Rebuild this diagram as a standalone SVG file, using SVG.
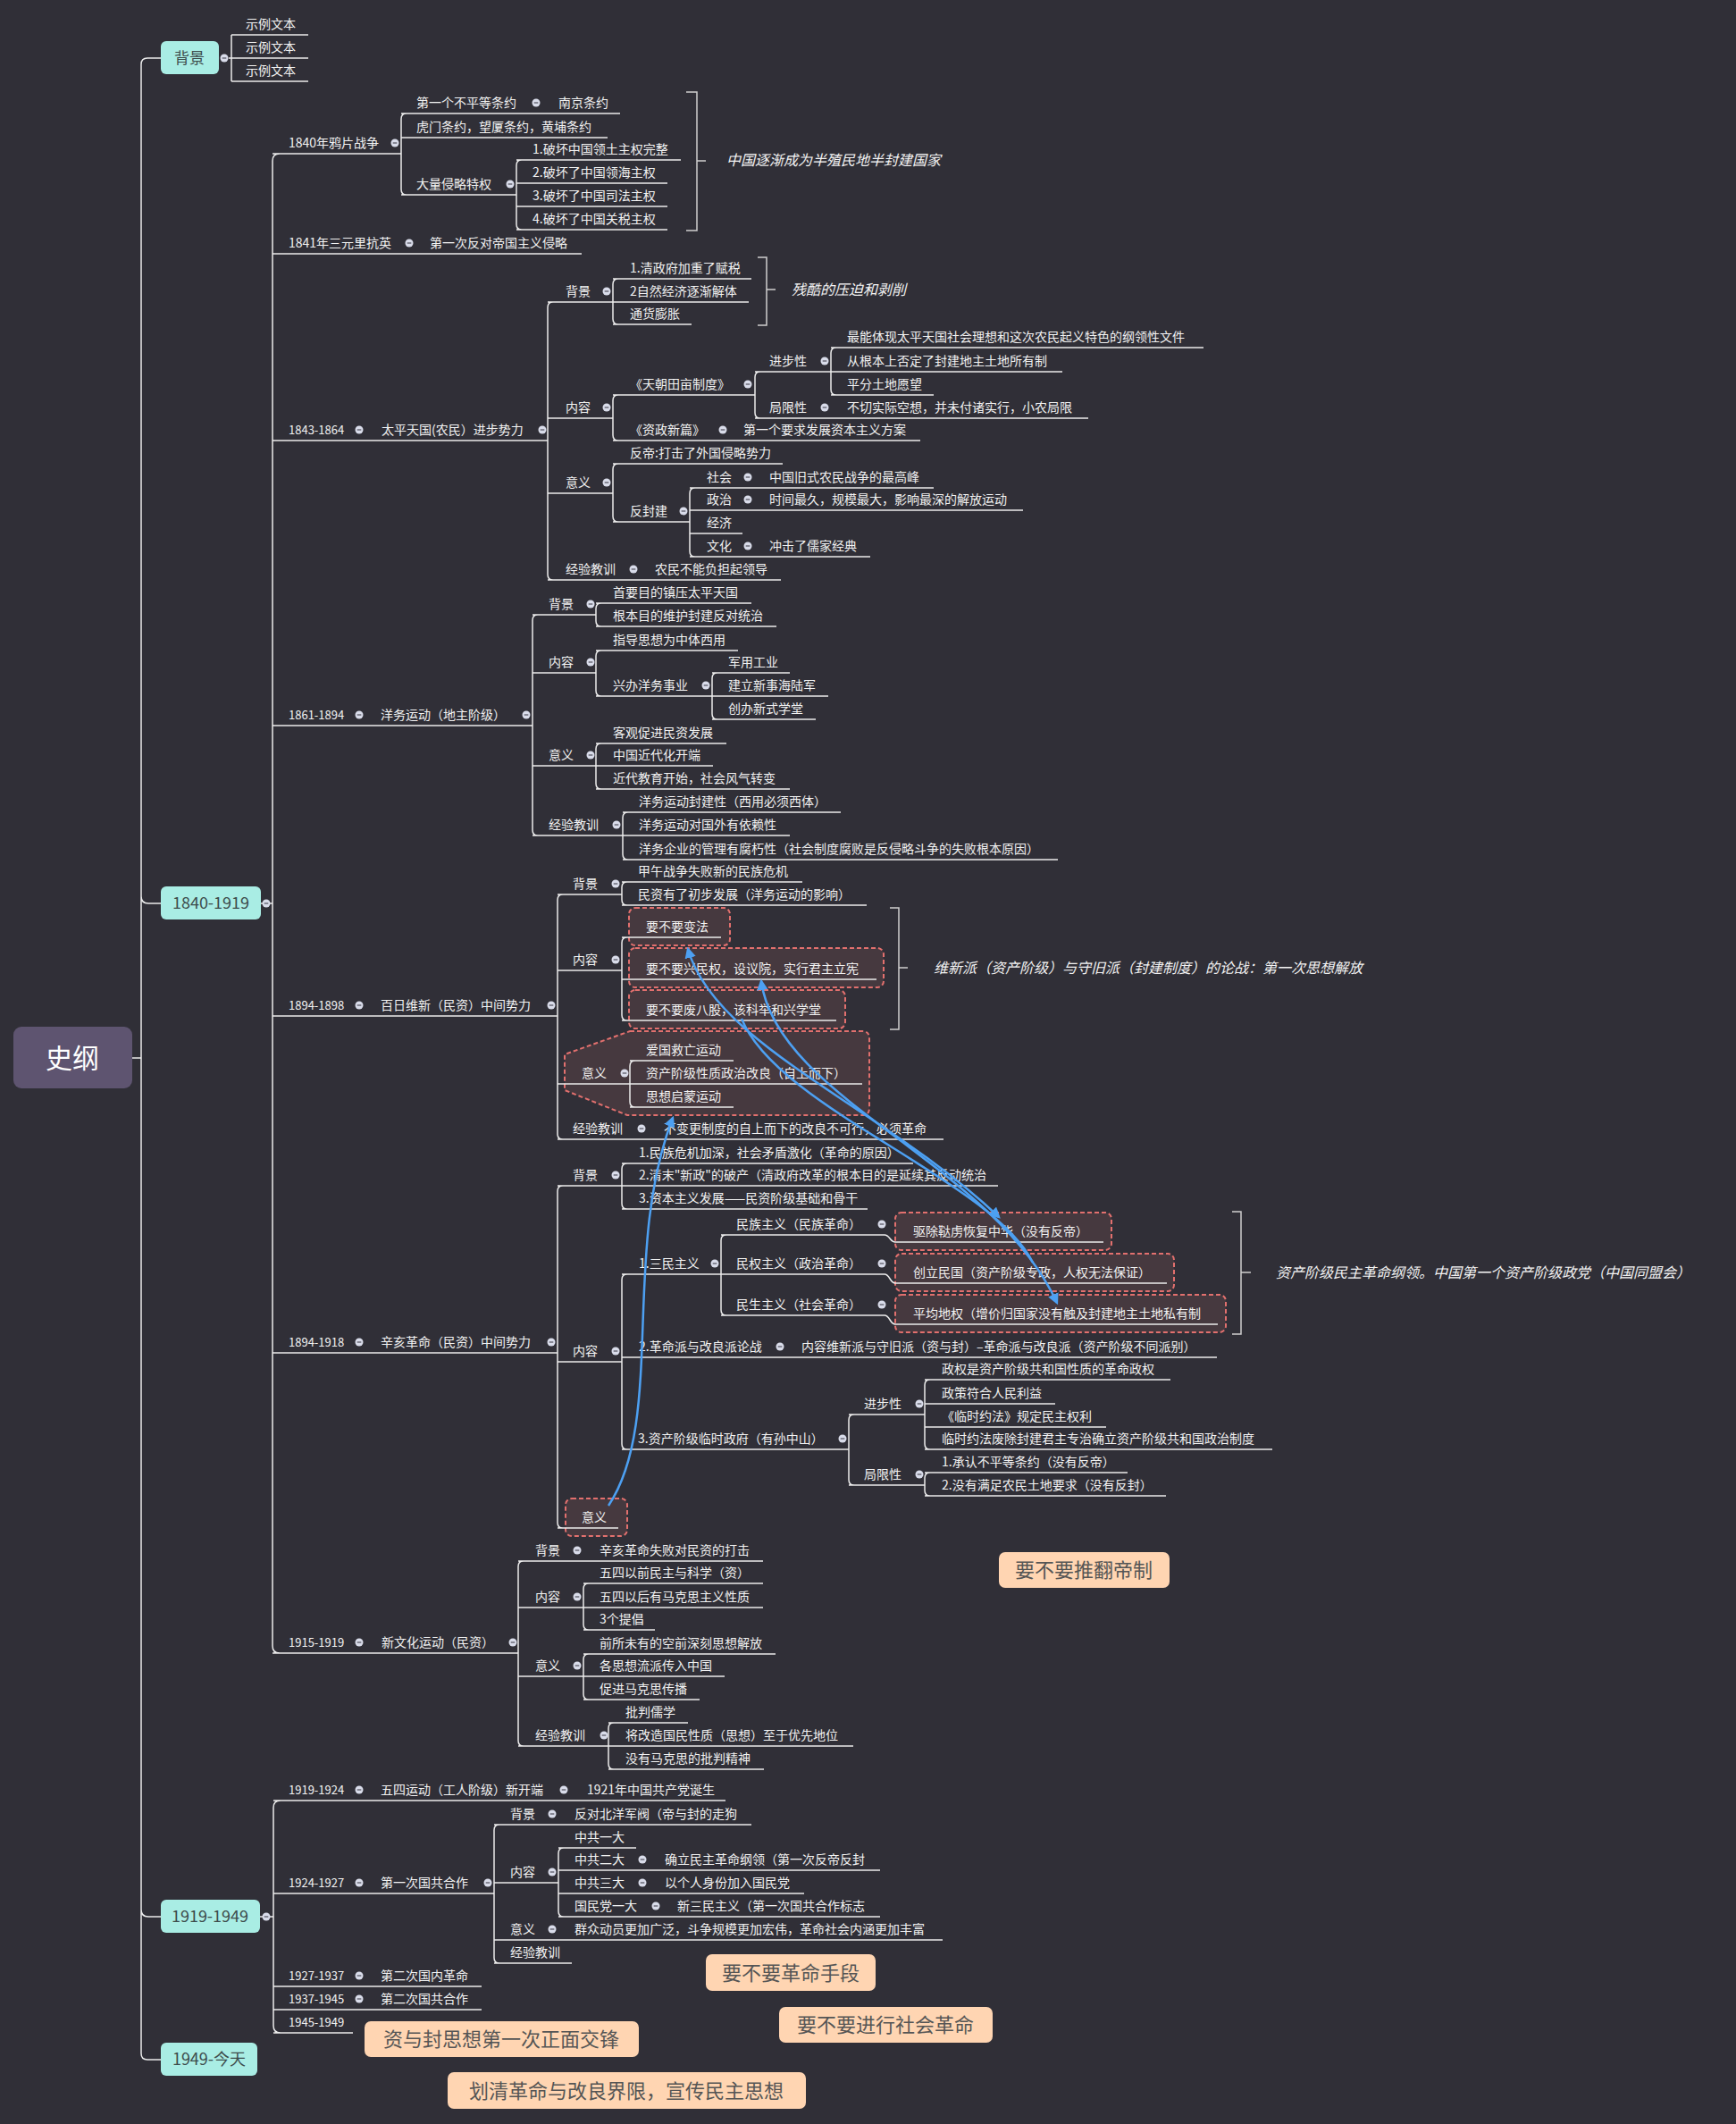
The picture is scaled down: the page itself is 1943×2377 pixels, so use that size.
<svg xmlns="http://www.w3.org/2000/svg" width="1943" height="2377" viewBox="0 0 1943 2377">
<defs>
<style>
text{font-family:"Noto Sans CJK SC","Microsoft YaHei",sans-serif;fill:#f2f2f2;font-size:14px}
.y{font-size:13px}
.it{font-style:italic;font-size:16px}
.l{stroke:#ececec;stroke-width:1.5;fill:none}
.br{stroke:#cfcfcf;stroke-width:1.5;fill:none}
.b1{fill:#a9ede4}
.b1t{fill:#3d4b4b;font-size:18px;text-anchor:middle}
.rb{fill:#46393f;stroke:#e2706e;stroke-width:2;stroke-dasharray:5 3}
.ob{fill:#ffd5b2}
.obt{fill:#555555;font-size:22px;text-anchor:middle}
.ar{stroke:#4da0f2;stroke-width:2.5;fill:none}
</style>
<g id="d"><circle r="4.5" fill="#d9dcea"/><line x1="-2.3" x2="2.3" y1="0" y2="0" stroke="#5a5a66" stroke-width="1.3"/></g>
<marker id="ah" viewBox="0 0 10 10" refX="8" refY="5" markerWidth="5" markerHeight="5" orient="auto-start-reverse"><path d="M0,0 L10,5 L0,10 z" fill="#4da0f2"/></marker>
</defs>
<rect width="1943" height="2377" fill="#302f37"/>

<!-- boxes -->
<g id="boxes">
<rect class="rb" x="704" y="1016" width="113" height="42" rx="7"/>
<rect class="rb" x="704" y="1061" width="285" height="44" rx="7"/>
<rect class="rb" x="704" y="1108" width="242" height="43" rx="7"/>
<path class="rb" d="M705,1154 H965 Q973,1154 973,1162 V1240 Q973,1248 965,1248 H702 L632,1220 V1180 Z"/>
<rect class="rb" x="1002" y="1357" width="242" height="42" rx="7"/>
<rect class="rb" x="1002" y="1403" width="312" height="42" rx="7"/>
<rect class="rb" x="1002" y="1449" width="370" height="42" rx="7"/>
<rect class="rb" x="633" y="1677" width="69" height="42" rx="7"/>
</g>

<g id="connectors">
<path class="l" d="M180,65 H165 Q158,65 158,72 V2298 Q158,2305 165,2305 H180 M148,1184 H158 M158,1003 Q158,1011 166,1011 H180 M158,2137 Q158,2145 166,2145 H180"/>
<path class="l" d="M256,65 H259 M259,39 V91 M259,39 H345 M259,65 H345 M259,91 H345"/>
<!-- 1840-1919 trunk -->
<path class="l" d="M313,172 Q305,172 305,180 V1842 Q305,1850 313,1850 M292,1011 H305 M305,172 H449 M305,284 H651 M305,493 H613 M305,812 H596 M305,1137 H624 M305,1514 H624 M305,1850 H580"/>
<!-- opium -->
<path class="l" d="M455,127 Q449,127 449,133 V212 Q449,218 455,218 M449,127 H694 M449,154 H680 M449,218 H578"/>
<path class="l" d="M584,179 Q578,179 578,185 V251 Q578,257 584,257 M578,179 H762 M578,205 H747 M578,231 H747 M578,257 H747"/>
<path class="br" d="M768,103 H780 V258 H768 M780,180 H790"/>
<!-- taiping -->
<path class="l" d="M619,338 Q613,338 613,344 V643 Q613,649 619,649 M613,338 H686 M613,468 H686 M613,552 H686 M613,649 H874"/>
<path class="l" d="M692,312 Q686,312 686,318 V357 Q686,363 692,363 M686,312 H841 M686,338 H838 M686,363 H774"/>
<path class="br" d="M848,288 H858 V364 H848 M858,324 H868"/>
<path class="l" d="M692,442 Q686,442 686,448 V487 Q686,493 692,493 M686,442 H845 M686,493 H1030"/>
<path class="l" d="M851,416 Q845,416 845,422 V462 Q845,468 851,468 M845,416 H930 M845,468 H1218"/>
<path class="l" d="M936,389 Q930,389 930,395 V436 Q930,442 936,442 M930,389 H1347 M930,416 H1189 M930,442 H1045"/>
<path class="l" d="M692,519 Q686,519 686,525 V578 Q686,584 692,584 M686,519 H876 M686,584 H772"/>
<path class="l" d="M778,546 Q772,546 772,552 V617 Q772,623 778,623 M772,546 H1045 M772,571 H1145 M772,597 H831 M772,623 H974"/>
<!-- yangwu -->
<path class="l" d="M602,688 Q596,688 596,694 V929 Q596,935 602,935 M596,688 H667 M596,753 H667 M596,857 H667 M596,935 H697"/>
<path class="l" d="M673,675 Q667,675 667,681 V695 Q667,701 673,701 M667,675 H841 M667,701 H869"/>
<path class="l" d="M673,728 Q667,728 667,734 V773 Q667,779 673,779 M667,728 H826 M667,779 H797"/>
<path class="l" d="M803,753 Q797,753 797,759 V799 Q797,805 803,805 M797,753 H884 M797,779 H927 M797,805 H913"/>
<path class="l" d="M673,832 Q667,832 667,838 V877 Q667,883 673,883 M667,832 H813 M667,857 H798 M667,883 H884"/>
<path class="l" d="M703,909 Q697,909 697,915 V956 Q697,962 703,962 M697,909 H941 M697,935 H884 M697,962 H1184"/>
<!-- hundred days -->
<path class="l" d="M630,1001 Q624,1001 624,1007 V1269 Q624,1275 630,1275 M624,1001 H696 M624,1086 H696 M624,1213 H705 M624,1275 H1056"/>
<path class="l" d="M702,987 Q696,987 696,993 V1007 Q696,1013 702,1013 M696,987 H898 M696,1013 H970"/>
<path class="l" d="M702,1049 Q696,1049 696,1055 V1136 Q696,1142 702,1142 M696,1049 H807 M696,1096 H981 M696,1142 H936"/>
<path class="br" d="M996,1016 H1006 V1152 H996 M1006,1083 H1016"/>
<path class="l" d="M711,1187 Q705,1187 705,1193 V1233 Q705,1239 711,1239 M705,1187 H821 M705,1213 H965 M705,1239 H821"/>
<!-- xinhai -->
<path class="l" d="M630,1327 Q624,1327 624,1333 V1704 Q624,1710 630,1710 M624,1327 H696 M624,1524 H696 M624,1710 H692"/>
<path class="l" d="M702,1302 Q696,1302 696,1308 V1347 Q696,1353 702,1353 M696,1302 H1022 M696,1327 H1117 M696,1353 H971"/>
<path class="l" d="M702,1426 Q696,1426 696,1432 V1616 Q696,1622 702,1622 M696,1426 H807 M696,1519 H1362 M696,1622 H950"/>
<path class="l" d="M813,1382 Q807,1382 807,1388 V1466 Q807,1472 813,1472 M807,1382 H990 C996,1382 996,1390 1002,1390 H1235 M807,1426 H990 C996,1426 996,1436 1002,1436 H1306 M807,1472 H990 C996,1472 996,1482 1002,1482 H1363"/>
<path class="br" d="M1379,1356 H1389 V1493 H1379 M1389,1424 H1400"/>
<path class="l" d="M956,1583 Q950,1583 950,1589 V1656 Q950,1662 956,1662 M950,1583 H1035 M950,1662 H1035"/>
<path class="l" d="M1041,1544 Q1035,1544 1035,1550 V1616 Q1035,1622 1041,1622 M1035,1544 H1310 M1035,1571 H1181 M1035,1597 H1238 M1035,1622 H1424"/>
<path class="l" d="M1041,1648 Q1035,1648 1035,1654 V1668 Q1035,1674 1041,1674 M1035,1648 H1262 M1035,1674 H1305"/>
<!-- new culture -->
<path class="l" d="M586,1747 Q580,1747 580,1753 V1948 Q580,1954 586,1954 M580,1747 H854 M580,1799 H653 M580,1876 H653 M580,1954 H681"/>
<path class="l" d="M659,1772 Q653,1772 653,1778 V1818 Q653,1824 659,1824 M653,1772 H854 M653,1799 H854 M653,1824 H733"/>
<path class="l" d="M659,1851 Q653,1851 653,1857 V1896 Q653,1902 659,1902 M653,1851 H868 M653,1876 H811 M653,1902 H783"/>
<path class="l" d="M687,1928 Q681,1928 681,1934 V1974 Q681,1980 687,1980 M681,1928 H770 M681,1954 H955 M681,1980 H855"/>
<!-- 1919-1949 -->
<path class="l" d="M314,2015 Q306,2015 306,2023 V2267 Q306,2275 314,2275 M291,2145 H306 M306,2015 H812 M306,2119 H553 M306,2223 H539 M306,2249 H539 M306,2275 H395"/>
<path class="l" d="M559,2042 Q553,2042 553,2048 V2191 Q553,2197 559,2197 M553,2042 H841 M553,2107 H625 M553,2171 H1055 M553,2197 H640"/>
<path class="l" d="M631,2068 Q625,2068 625,2074 V2139 Q625,2145 631,2145 M625,2068 H712 M625,2093 H985 M625,2119 H900 M625,2145 H985"/>
</g>

<g id="toggles">
<use href="#d" x="251" y="65"/><use href="#d" x="298" y="1011"/><use href="#d" x="298" y="2145"/>
<use href="#d" x="442" y="160"/><use href="#d" x="600" y="115"/><use href="#d" x="571" y="206"/><use href="#d" x="458" y="272"/>
<use href="#d" x="402" y="481"/><use href="#d" x="607" y="481"/><use href="#d" x="679" y="326"/><use href="#d" x="679" y="456"/><use href="#d" x="837" y="430"/><use href="#d" x="923" y="404"/><use href="#d" x="923" y="456"/><use href="#d" x="809" y="481"/><use href="#d" x="679" y="540"/><use href="#d" x="765" y="572"/><use href="#d" x="837" y="534"/><use href="#d" x="837" y="559"/><use href="#d" x="837" y="611"/><use href="#d" x="709" y="637"/>
<use href="#d" x="402" y="800"/><use href="#d" x="589" y="800"/><use href="#d" x="661" y="676"/><use href="#d" x="661" y="741"/><use href="#d" x="790" y="767"/><use href="#d" x="661" y="845"/><use href="#d" x="690" y="923"/>
<use href="#d" x="402" y="1125"/><use href="#d" x="617" y="1125"/><use href="#d" x="689" y="989"/><use href="#d" x="689" y="1074"/><use href="#d" x="699" y="1201"/><use href="#d" x="718" y="1263"/>
<use href="#d" x="402" y="1502"/><use href="#d" x="617" y="1502"/><use href="#d" x="689" y="1315"/><use href="#d" x="689" y="1512"/><use href="#d" x="800" y="1414"/><use href="#d" x="987" y="1370"/><use href="#d" x="987" y="1414"/><use href="#d" x="987" y="1460"/><use href="#d" x="873" y="1507"/><use href="#d" x="943" y="1610"/><use href="#d" x="1029" y="1571"/><use href="#d" x="1029" y="1650"/>
<use href="#d" x="402" y="1838"/><use href="#d" x="574" y="1838"/><use href="#d" x="646" y="1735"/><use href="#d" x="646" y="1787"/><use href="#d" x="646" y="1864"/><use href="#d" x="676" y="1942"/>
<use href="#d" x="402" y="2003"/><use href="#d" x="631" y="2003"/><use href="#d" x="402" y="2107"/><use href="#d" x="546" y="2107"/><use href="#d" x="618" y="2030"/><use href="#d" x="618" y="2095"/><use href="#d" x="719" y="2081"/><use href="#d" x="719" y="2107"/><use href="#d" x="734" y="2133"/><use href="#d" x="618" y="2159"/><use href="#d" x="402" y="2211"/><use href="#d" x="402" y="2237"/>
</g>

<g id="n-root"><rect x="15" y="1149" width="133" height="69" rx="9" fill="#5e5470"/><text x="81" y="1195" style="font-size:30px;text-anchor:middle;fill:#ffffff">史纲</text></g>
<g id="n-bj"><rect class="b1" x="180" y="46" width="65" height="37" rx="6"/><text class="b1t" x="212" y="71" style="font-size:17px">背景</text></g>
<g id="n-1840"><rect class="b1" x="180" y="992" width="112" height="37" rx="6"/><text class="b1t" x="236" y="1017">1840-1919</text></g>
<g id="n-1919"><rect class="b1" x="180" y="2126" width="111" height="37" rx="6"/><text class="b1t" x="235" y="2151">1919-1949</text></g>
<g id="n-1949"><rect class="b1" x="180" y="2286" width="108" height="37" rx="6"/><text class="b1t" x="234" y="2311">1949-今天</text></g>

<g id="n-sample"><text x="275" y="32">示例文本</text><text x="275" y="58">示例文本</text><text x="275" y="84">示例文本</text></g>

<g id="n-opium">
<text x="323" y="165">1840年鸦片战争</text>
<text x="466" y="120">第一个不平等条约</text><text x="625" y="120">南京条约</text>
<text x="466" y="147">虎门条约，望厦条约，黄埔条约</text>
<text x="466" y="211">大量侵略特权</text>
<text x="596" y="172">1.破坏中国领土主权完整</text>
<text x="596" y="198">2.破坏了中国领海主权</text>
<text x="596" y="224">3.破坏了中国司法主权</text>
<text x="596" y="250">4.破坏了中国关税主权</text>
<text class="it" x="813" y="185">中国逐渐成为半殖民地半封建国家</text>
</g>
<g id="n-1841"><text x="323" y="277">1841年三元里抗英</text><text x="481" y="277">第一次反对帝国主义侵略</text></g>

<g id="n-taiping">
<text class="y" x="323" y="486">1843-1864</text><text x="427" y="486">太平天国(农民）进步势力</text>
<text x="633" y="331">背景</text>
<text x="705" y="305">1.清政府加重了赋税</text><text x="705" y="331">2自然经济逐渐解体</text><text x="705" y="356">通货膨胀</text>
<text class="it" x="886" y="330">残酷的压迫和剥削</text>
<text x="633" y="461">内容</text>
<text x="705" y="435">《天朝田亩制度》</text>
<text x="861" y="409">进步性</text>
<text x="948" y="382">最能体现太平天国社会理想和这次农民起义特色的纲领性文件</text>
<text x="948" y="409">从根本上否定了封建地主土地所有制</text>
<text x="948" y="435">平分土地愿望</text>
<text x="861" y="461">局限性</text><text x="948" y="461">不切实际空想，并未付诸实行，小农局限</text>
<text x="705" y="486">《资政新篇》</text><text x="832" y="486">第一个要求发展资本主义方案</text>
<text x="633" y="545">意义</text>
<text x="705" y="512">反帝:打击了外国侵略势力</text>
<text x="705" y="577">反封建</text>
<text x="791" y="539">社会</text><text x="861" y="539">中国旧式农民战争的最高峰</text>
<text x="791" y="564">政治</text><text x="861" y="564">时间最久，规模最大，影响最深的解放运动</text>
<text x="791" y="590">经济</text>
<text x="791" y="616">文化</text><text x="861" y="616">冲击了儒家经典</text>
<text x="633" y="642">经验教训</text><text x="733" y="642">农民不能负担起领导</text>
</g>

<g id="n-yangwu">
<text class="y" x="323" y="805">1861-1894</text><text x="426" y="805">洋务运动（地主阶级）</text>
<text x="614" y="681">背景</text>
<text x="686" y="668">首要目的镇压太平天国</text><text x="686" y="694">根本目的维护封建反对统治</text>
<text x="614" y="746">内容</text>
<text x="686" y="721">指导思想为中体西用</text><text x="686" y="772">兴办洋务事业</text>
<text x="815" y="746">军用工业</text><text x="815" y="772">建立新事海陆军</text><text x="815" y="798">创办新式学堂</text>
<text x="614" y="850">意义</text>
<text x="686" y="825">客观促进民资发展</text><text x="686" y="850">中国近代化开端</text><text x="686" y="876">近代教育开始，社会风气转变</text>
<text x="614" y="928">经验教训</text>
<text x="715" y="902">洋务运动封建性（西用必须西体）</text>
<text x="715" y="928">洋务运动对国外有依赖性</text>
<text x="715" y="955">洋务企业的管理有腐朽性（社会制度腐败是反侵略斗争的失败根本原因）</text>
</g>

<g id="n-hundred">
<text class="y" x="323" y="1130">1894-1898</text><text x="426" y="1130">百日维新（民资）中间势力</text>
<text x="641" y="994">背景</text>
<text x="714" y="980">甲午战争失败新的民族危机</text><text x="714" y="1006">民资有了初步发展（洋务运动的影响）</text>
<text x="641" y="1079">内容</text>
<text x="723" y="1042">要不要变法</text>
<text x="723" y="1089">要不要兴民权，设议院，实行君主立宪</text>
<text x="723" y="1135">要不要废八股，该科举和兴学堂</text>
<text class="it" x="1045" y="1089">维新派（资产阶级）与守旧派（封建制度）的论战：第一次思想解放</text>
<text x="651" y="1206">意义</text>
<text x="723" y="1180">爱国救亡运动</text><text x="723" y="1206">资产阶级性质政治改良（自上而下）</text><text x="723" y="1232">思想启蒙运动</text>
<text x="641" y="1268">经验教训</text><text x="743" y="1268">不变更制度的自上而下的改良不可行，必须革命</text>
</g>

<g id="n-xinhai">
<text class="y" x="323" y="1507">1894-1918</text><text x="426" y="1507">辛亥革命（民资）中间势力</text>
<text x="641" y="1320">背景</text>
<text x="715" y="1295">1.民族危机加深，社会矛盾激化（革命的原因）</text>
<text x="715" y="1320">2.清末"新政"的破产（清政府改革的根本目的是延续其反动统治</text>
<text x="715" y="1346">3.资本主义发展——民资阶级基础和骨干</text>
<text x="641" y="1517">内容</text>
<text x="715" y="1419">1.三民主义</text>
<text x="824" y="1375">民族主义（民族革命）</text><text x="1022" y="1383">驱除鞑虏恢复中华（没有反帝）</text>
<text x="824" y="1419">民权主义（政治革命）</text><text x="1022" y="1429">创立民国（资产阶级专政，人权无法保证）</text>
<text x="824" y="1465">民生主义（社会革命）</text><text x="1022" y="1475">平均地权（增价归国家没有触及封建地主土地私有制</text>
<text class="it" x="1428" y="1430">资产阶级民主革命纲领。中国第一个资产阶级政党（中国同盟会）</text>
<text x="715" y="1512">2.革命派与改良派论战</text><text x="897" y="1512">内容维新派与守旧派（资与封）–革命派与改良派（资产阶级不同派别）</text>
<text x="714" y="1615">3.资产阶级临时政府（有孙中山）</text>
<text x="967" y="1576">进步性</text>
<text x="1054" y="1537">政权是资产阶级共和国性质的革命政权</text>
<text x="1054" y="1564">政策符合人民利益</text>
<text x="1054" y="1590">《临时约法》规定民主权利</text>
<text x="1054" y="1615">临时约法废除封建君主专治确立资产阶级共和国政治制度</text>
<text x="967" y="1655">局限性</text>
<text x="1054" y="1641">1.承认不平等条约（没有反帝）</text>
<text x="1054" y="1667">2.没有满足农民土地要求（没有反封）</text>
<text x="651" y="1703">意义</text>
</g>

<g id="n-newculture">
<text class="y" x="323" y="1843">1915-1919</text><text x="427" y="1843">新文化运动（民资）</text>
<text x="599" y="1740">背景</text><text x="671" y="1740">辛亥革命失败对民资的打击</text>
<text x="599" y="1792">内容</text>
<text x="671" y="1765">五四以前民主与科学（资）</text><text x="671" y="1792">五四以后有马克思主义性质</text><text x="671" y="1817">3个提倡</text>
<text x="599" y="1869">意义</text>
<text x="671" y="1844">前所未有的空前深刻思想解放</text><text x="671" y="1869">各思想流派传入中国</text><text x="671" y="1895">促进马克思传播</text>
<text x="599" y="1947">经验教训</text>
<text x="700" y="1921">批判儒学</text><text x="700" y="1947">将改造国民性质（思想）至于优先地位</text><text x="700" y="1973">没有马克思的批判精神</text>
</g>

<g id="n-1919">
<text class="y" x="323" y="2008">1919-1924</text><text x="426" y="2008">五四运动（工人阶级）新开端</text><text x="657" y="2008">1921年中国共产党诞生</text>
<text class="y" x="323" y="2112">1924-1927</text><text x="426" y="2112">第一次国共合作</text>
<text x="571" y="2035">背景</text><text x="643" y="2035">反对北洋军阀（帝与封的走狗</text>
<text x="571" y="2100">内容</text>
<text x="643" y="2061">中共一大</text>
<text x="643" y="2086">中共二大</text><text x="744" y="2086">确立民主革命纲领（第一次反帝反封</text>
<text x="643" y="2112">中共三大</text><text x="744" y="2112">以个人身份加入国民党</text>
<text x="643" y="2138">国民党一大</text><text x="758" y="2138">新三民主义（第一次国共合作标志</text>
<text x="571" y="2164">意义</text><text x="643" y="2164">群众动员更加广泛，斗争规模更加宏伟，革命社会内涵更加丰富</text>
<text x="571" y="2190">经验教训</text>
<text class="y" x="323" y="2216">1927-1937</text><text x="426" y="2216">第二次国内革命</text>
<text class="y" x="323" y="2242">1937-1945</text><text x="426" y="2242">第二次国共合作</text>
<text class="y" x="323" y="2268">1945-1949</text>
</g>

<g id="n-notes">
<rect class="ob" x="1118" y="1737" width="191" height="40" rx="7"/><text class="obt" x="1213" y="1765">要不要推翻帝制</text>
<rect class="ob" x="790" y="2187" width="190" height="41" rx="7"/><text class="obt" x="885" y="2216">要不要革命手段</text>
<rect class="ob" x="872" y="2246" width="239" height="40" rx="7"/><text class="obt" x="991" y="2274">要不要进行社会革命</text>
<rect class="ob" x="408" y="2262" width="307" height="40" rx="7"/><text class="obt" x="561" y="2290">资与封思想第一次正面交锋</text>
<rect class="ob" x="501" y="2319" width="401" height="41" rx="7"/><text class="obt" x="701" y="2348">划清革命与改良界限，宣传民主思想</text>
</g>

<g id="relations">
<path class="ar" marker-end="url(#ah)" d="M681,1685 C745,1590 695,1400 753,1251"/>
<path class="ar" marker-start="url(#ah)" marker-end="url(#ah)" d="M770,1062 C800,1170 990,1240 1118,1362"/>
<path class="ar" marker-start="url(#ah)" marker-end="url(#ah)" d="M852,1098 C870,1230 1110,1300 1183,1458"/>
<path class="ar" d="M1156,1413 C1110,1320 870,1240 830,1140"/>
</g>
</svg>
